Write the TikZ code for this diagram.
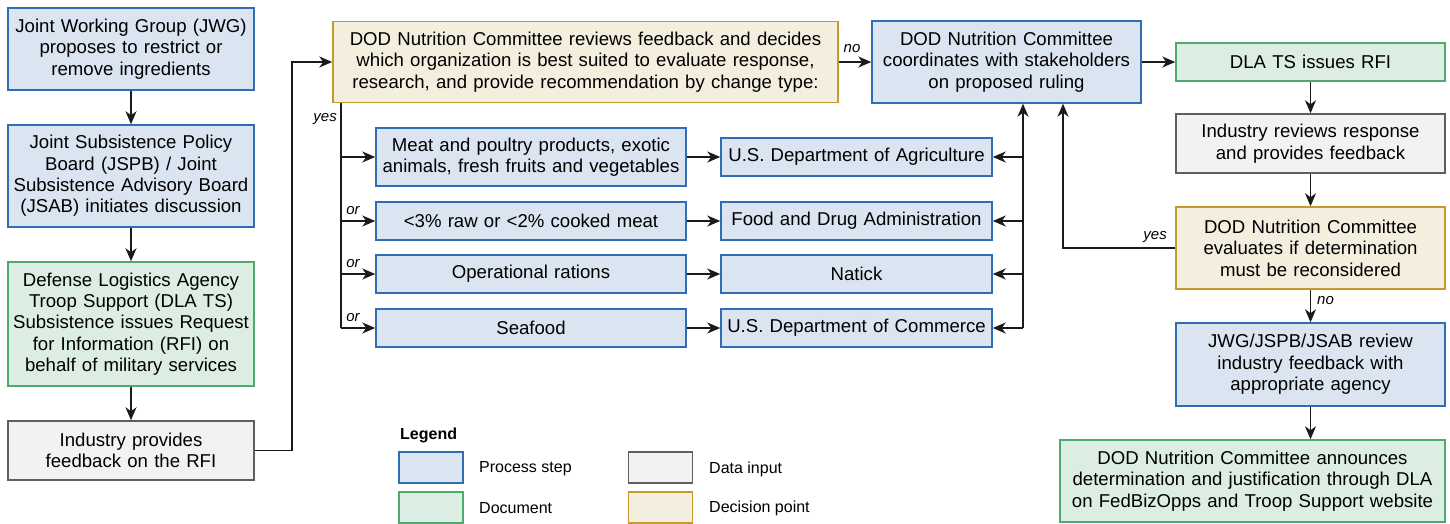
\documentclass[tikz,border=0pt]{standalone}
\usepackage{fontspec}
\setmainfont{Liberation Sans}
\usetikzlibrary{arrows.meta,calc}
\definecolor{blueF}{HTML}{DAE5F1}
\definecolor{blueD}{HTML}{2F6EB5}
\definecolor{greenF}{HTML}{DCEEE3}
\definecolor{greenD}{HTML}{4CAA6A}
\definecolor{grayF}{HTML}{F2F2F2}
\definecolor{grayD}{HTML}{5F5F5F}
\definecolor{tanF}{HTML}{F4EEDF}
\definecolor{tanD}{HTML}{C49A30}
\definecolor{lineC}{HTML}{1A1A1A}
\newcommand{\mainfs}{\fontsize{18.6}{21.4}\selectfont}
\tikzset{
  box/.style={draw, line width=1.5pt, inner sep=0pt, align=center, font=\mainfs},
  proc/.style={box, fill=blueF, draw=blueD},
  docu/.style={box, fill=greenF, draw=greenD},
  datain/.style={box, fill=grayF, draw=grayD},
  decis/.style={box, fill=tanF, draw=tanD},
  arr/.style={-{Stealth[length=13pt,width=11pt,inset=4pt]}, line width=1.4pt, draw=lineC},
  ln/.style={line width=1.4pt, draw=lineC},
  lab/.style={font=\itshape\fontsize{15}{17}\selectfont, inner sep=0pt},
  legtxt/.style={font=\fontsize{16}{18}\selectfont, inner sep=0pt, anchor=west},
  swatch/.style={draw, line width=1.5pt, minimum width=64, minimum height=31, inner sep=0pt}
}
\begin{document}
\begin{tikzpicture}[x=1pt,y=-1pt]
\useasboundingbox (0,0) rectangle (1450,523);

% left column
\node[proc, minimum width=246, minimum height=82, text width=242] (n1) at (131,49)
  {Joint Working Group (JWG)\\proposes to restrict or\\remove ingredients};
\node[proc, minimum width=246, minimum height=102, text width=242] (n2) at (131,176)
  {Joint Subsistence Policy\\Board (JSPB) / Joint\\Subsistence Advisory Board\\(JSAB) initiates discussion};
\node[docu, minimum width=246, minimum height=124, text width=242] (n3) at (131,324)
  {Defense Logistics Agency\\Troop Support (DLA TS)\\Subsistence issues Request\\for Information (RFI) on\\behalf of military services};
\node[datain, minimum width=246, minimum height=59, text width=242] (n4) at (131,450.5)
  {Industry provides\\feedback on the RFI};

% decision 1
\node[decis, minimum width=505, minimum height=81, text width=500] (d1) at (585.5,62)
  {DOD Nutrition Committee reviews feedback and decides\\which organization is best suited to evaluate response,\\research, and provide recommendation by change type:};

% coordination
\node[proc, minimum width=269, minimum height=82, text width=265] (co) at (1006.5,62)
  {DOD Nutrition Committee\\coordinates with stakeholders\\on proposed ruling};

% right column
\node[docu, minimum width=269, minimum height=38, text width=265] (rfi) at (1310.5,62)
  {DLA TS issues RFI};
\node[datain, minimum width=269, minimum height=59, text width=265] (ir) at (1310.5,143.5)
  {Industry reviews response\\and provides feedback};
\node[decis, minimum width=269, minimum height=82, text width=265] (d2) at (1310.5,248)
  {DOD Nutrition Committee\\evaluates if determination\\must be reconsidered};
\node[proc, minimum width=269, minimum height=83, text width=265] (jw) at (1310.5,364.5)
  {JWG/JSPB/JSAB review\\industry feedback with\\appropriate agency};
\node[docu, minimum width=385, minimum height=82, text width=381] (fin) at (1252.5,481)
  {DOD Nutrition Committee announces\\determination and justification through DLA\\on FedBizOpps and Troop Support website};

% middle rows
\node[proc, minimum width=310, minimum height=58, text width=306] (m1) at (531,157)
  {Meat and poultry products, exotic\\animals, fresh fruits and vegetables};
\node[proc, minimum width=271, minimum height=38, text width=267] (a1) at (856.5,157)
  {U.S. Department of Agriculture};
\node[proc, minimum width=310, minimum height=38, text width=306] (m2) at (531,221)
  {<3\% raw or <2\% cooked meat};
\node[proc, minimum width=271, minimum height=38, text width=267] (a2) at (856.5,221)
  {Food and Drug Administration};
\node[proc, minimum width=310, minimum height=38, text width=306] (m3) at (531,274)
  {Operational rations};
\node[proc, minimum width=271, minimum height=38, text width=267] (a3) at (856.5,274)
  {Natick};
\node[proc, minimum width=310, minimum height=38, text width=306] (m4) at (531,328)
  {Seafood};
\node[proc, minimum width=271, minimum height=38, text width=267] (a4) at (856.5,328)
  {U.S. Department of Commerce};

% helper coordinates
\coordinate (lx) at (292,0);
\coordinate (yx) at (341,0);
\coordinate (sx) at (1023,0);
\coordinate (rx) at (1063,0);

% left column arrows
\draw[arr] (n1) -- (n2);
\draw[arr] (n2) -- (n3);
\draw[arr] (n3) -- (n4);
\draw[arr] (n4.east) -- (lx |- n4.east) -- (lx |- d1.west) -- (d1.west);

% decision 1 -> coordination (no)
\draw[arr] (d1.east) -- (co.west);
\node[lab] (lno1) at (852,49) {no};

% yes branch
\draw[ln] (yx |- d1.south) -- (yx |- m4.west);
\node[lab, anchor=east] (lyes1) at (337,119) {yes};
\draw[arr] (yx |- m1.west) -- (m1.west);
\draw[arr] (yx |- m2.west) -- (m2.west);
\draw[arr] (yx |- m3.west) -- (m3.west);
\draw[arr] (yx |- m4.west) -- (m4.west);
\node[lab] (lor1) at (353,211) {or};
\node[lab] (lor2) at (353,264) {or};
\node[lab] (lor3) at (353,318) {or};
\draw[arr] (m1.east) -- (a1.west);
\draw[arr] (m2.east) -- (a2.west);
\draw[arr] (m3.east) -- (a3.west);
\draw[arr] (m4.east) -- (a4.west);

% right spine
\draw[arr] (sx |- a4.east) -- (sx |- co.south);
\draw[arr] (sx |- a1.east) -- (a1.east);
\draw[arr] (sx |- a2.east) -- (a2.east);
\draw[arr] (sx |- a3.east) -- (a3.east);
\draw[arr] (sx |- a4.east) -- (a4.east);

% right column
\draw[arr] (co.east) -- (rfi.west);
\draw[arr] (rfi) -- (ir);
\draw[arr] (ir) -- (d2);
\draw[arr] (d2) -- (jw);
\node[lab, anchor=west] (lno2) at (1317,301) {no};
\draw[arr] (jw.south) -- (jw.south |- fin.north);
\draw[arr] (d2.west) -- (rx |- d2.west) -- (rx |- co.south);
\node[lab, anchor=east] (lyes2) at (1167,237) {yes};

% legend
\node[font=\bfseries\fontsize{16}{18}\selectfont, inner sep=0pt, anchor=west] (leg) at (400,435) {Legend};
\node[swatch, fill=blueF, draw=blueD] (s1) at (431,467.5) {};
\node[swatch, fill=greenF, draw=greenD] (s2) at (431,507.5) {};
\node[swatch, fill=grayF, draw=grayD] (s3) at (660.5,467.5) {};
\node[swatch, fill=tanF, draw=tanD] (s4) at (660.5,507.5) {};
\node[legtxt] (t1) at (479,469) {Process step};
\node[legtxt] (t2) at (479,508) {Document};
\node[legtxt] (t3) at (709,469) {Data input};
\node[legtxt] (t4) at (709,508) {Decision point};
\end{tikzpicture}
\end{document}
